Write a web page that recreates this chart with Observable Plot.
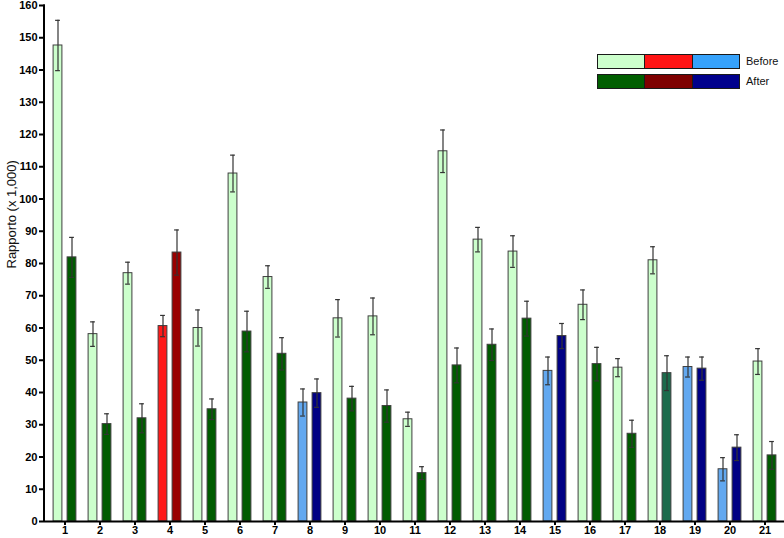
<!DOCTYPE html>
<html><head><meta charset="utf-8">
<script src="https://cdn.jsdelivr.net/npm/d3@7"></script>
<script src="https://cdn.jsdelivr.net/npm/@observablehq/plot@0.6"></script>
<style>
html,body{margin:0;padding:0;background:#fff;}
#wrap{position:relative;width:784px;height:538px;font-family:"Liberation Sans",Arial,sans-serif;}
.row{position:absolute;left:597px;display:flex;width:143px;height:15px;border:1px solid #1a1a1a;box-sizing:border-box;}
.row span{flex:1;border-right:1px solid #1a1a1a;}
.row span:last-child{border-right:none;}
.lab{position:absolute;left:746px;font-size:11px;line-height:15px;color:#111;}
</style></head><body><div id="wrap"></div>
<script>
const groups = ["1","2","3","4","5","6","7","8","9","10","11","12","13","14","15","16","17","18","19","20","21"];
const beforeMean = [147.6, 58.1, 77.0, 60.6, 60.0, 107.9, 75.8, 36.9, 63.0, 63.6, 31.7, 114.8, 87.4, 83.7, 46.7, 67.2, 47.7, 81.0, 47.9, 16.2, 49.6];
const beforeErr  = [7.8, 3.8, 3.4, 3.3, 5.6, 5.7, 3.5, 4.2, 5.8, 5.7, 2.2, 6.6, 3.8, 4.9, 4.3, 4.6, 2.8, 4.2, 3.1, 3.6, 4.0];
const afterMean  = [81.9, 30.2, 32.0, 83.4, 34.8, 58.9, 52.0, 39.8, 38.1, 35.8, 15.0, 48.4, 54.8, 62.9, 57.5, 48.8, 27.2, 46.0, 47.4, 22.9, 20.5];
const afterErr   = [6.2, 3.2, 4.5, 7.0, 3.2, 6.3, 5.0, 4.4, 3.8, 5.0, 2.0, 5.4, 4.9, 5.4, 3.9, 5.2, 4.2, 5.4, 3.6, 4.0, 4.3];
const beforeKind = ["A","A","A","B","A","A","A","C","A","A","A","A","A","A","C","A","A","A","C","C","A"];
const afterKind  = ["A","A","A","B","A","A","A","C","A","A","A","A","A","A","C","A","A","D","C","C","A"];
const colorKeys  = ["Before A","Before B","Before C","After A","After B","After C","After D"];
const colorRange = ["#ccffcc","#ff1a1a","#62a8f0","#005c00","#990000","#000084","#1b6b4c"];
const yTicks = [0,10,20,30,40,50,60,70,80,90,100,110,120,130,140,150,160];
const yLabel = "Rapporto (x 1,000)";
const legendLabels = ["Before","After"];
const legendColors = [["#ccffcc","#ff1414","#36a2fb"],["#005e00","#7e0000","#00008c"]];

const rows = [];
groups.forEach((g,i)=>{
  rows.push({group:g, period:"Before", value:beforeMean[i], err:beforeErr[i], key:"Before "+beforeKind[i]});
  rows.push({group:g, period:"After", value:afterMean[i], err:afterErr[i], key:"After "+afterKind[i]});
});
const before = rows.filter(d=>d.period==="Before");
const after = rows.filter(d=>d.period==="After");

const W=784, H=538, mL=45, mR=0, mT=5, mB=17;
const band = (W-mL-mR)/groups.length;
const barW=9, off=7, capW=5;
const inset=(band-barW)/2, capInset=(band-capW)/2;

function series(data, dx){
  return [
    Plot.barY(data,{x:"group", y:"value", fill:"key", stroke:"#3f3f3f", strokeWidth:1, dx, insetLeft:inset, insetRight:inset}),
    Plot.ruleX(data,{x:"group", y1:d=>d.value-d.err, y2:d=>d.value+d.err, stroke:"#333", strokeWidth:1.2, dx}),
    Plot.tickY(data,{x:"group", y:d=>d.value+d.err, stroke:"#333", strokeWidth:1.2, dx, insetLeft:capInset, insetRight:capInset}),
    Plot.tickY(data,{x:"group", y:d=>d.value-d.err, stroke:"#333", strokeWidth:1.2, dx, insetLeft:capInset, insetRight:capInset})
  ];
}

const plot = Plot.plot({
  width:W, height:H, marginLeft:mL, marginRight:mR, marginTop:mT, marginBottom:mB,
  style:{fontFamily:'"Liberation Sans", Arial, sans-serif', background:"#fff", color:"#000"},
  x:{type:"band", domain:groups, padding:0},
  y:{domain:[0,160]},
  color:{domain:colorKeys, range:colorRange},
  marks:[
    ...series(before, -off),
    ...series(after, off),
    Plot.axisX({tickSize:4, tickPadding:1, fontWeight:"bold", fontSize:11, strokeWidth:2, label:null}),
    Plot.axisY({ticks:yTicks, tickSize:6, tickPadding:2, fontWeight:"bold", fontSize:11, strokeWidth:2, label:null}),
    Plot.text([yLabel],{frameAnchor:"left", dx:-34, dy:5, rotate:-90, fontSize:13, fill:"#111"}),
    Plot.ruleY([0],{stroke:"#000", strokeWidth:2})
  ]
});
const sx = plot.scale("x"), sy = plot.scale("y");
d3.select(plot).append("line")
  .attr("x1", sx.range[0]-1).attr("x2", sx.range[0]-1)
  .attr("y1", sy.range[0]+1).attr("y2", sy.range[1]-0.5)
  .attr("stroke","#000").attr("stroke-width",2);

const wrap = document.getElementById("wrap");
wrap.appendChild(plot);
legendLabels.forEach((lab,i)=>{
  const r = document.createElement("div");
  r.className="row"; r.style.top=(54+i*20)+"px";
  legendColors[i].forEach(c=>{const s=document.createElement("span"); s.style.background=c; r.appendChild(s);});
  wrap.appendChild(r);
  const t = document.createElement("div");
  t.className="lab"; t.style.top=(54+i*20)+"px"; t.textContent=lab;
  wrap.appendChild(t);
});
</script></body></html>
